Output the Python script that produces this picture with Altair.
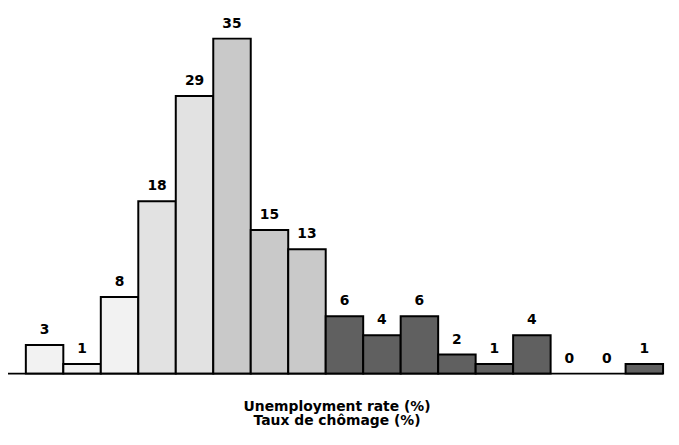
import altair as alt
import pandas as pd

bin_start = list(range(17))
counts = [3, 1, 8, 18, 29, 35, 15, 13, 6, 4, 6, 2, 1, 4, 0, 0, 1]
group = ["a", "a", "a", "b", "b", "c", "c", "c", "d", "d", "d", "d", "d", "d", "d", "d", "d"]
group_colors = ["#f2f2f2", "#e2e2e2", "#c9c9c9", "#606060"]
tick_values = list(range(18))
title_lines = ["Unemployment rate (%)", "Taux de chômage (%)"]

df = pd.DataFrame({
    "start": bin_start,
    "end": [s + 1 for s in bin_start],
    "mid": [s + 0.5 for s in bin_start],
    "count": counts,
    "zero": [0] * 17,
    "group": group,
})
bar_df = df[df["count"] > 0].reset_index(drop=True)

XD = [0, 17]
YD = [0, 38]

bars = alt.Chart(bar_df).mark_rect(stroke="black", strokeWidth=2).encode(
    x=alt.X("start:Q", scale=alt.Scale(domain=XD, nice=False),
            axis=alt.Axis(values=tick_values, title=None, grid=False, domain=False,
                          tickColor="black", tickSize=6, tickWidth=2,
                          labelFont="DejaVu Sans", labelFontSize=13, labelFontWeight="bold",
                          labelColor="black", labelPadding=3, labelOverlap=False)),
    x2="end:Q",
    y=alt.Y("count:Q", scale=alt.Scale(domain=YD, nice=False), axis=None),
    y2="zero:Q",
    fill=alt.Fill("group:N", scale=alt.Scale(domain=["a", "b", "c", "d"], range=group_colors), legend=None),
)

labels = alt.Chart(df).mark_text(baseline="bottom", dy=-8, font="DejaVu Sans",
                                 fontSize=14, fontWeight="bold", color="black").encode(
    x=alt.X("mid:Q", axis=None),
    y=alt.Y("count:Q", axis=None),
    text="count:Q",
)

axis_df = pd.DataFrame({"x1": [-0.5], "x2": [17.0], "y": [0]})
axis_line = alt.Chart(axis_df).mark_rule(color="black", strokeWidth=2).encode(
    x=alt.X("x1:Q", axis=None), x2="x2:Q", y=alt.Y("y:Q", axis=None)
)

t1 = alt.Chart(pd.DataFrame({"t": [title_lines[0]]})).mark_text(
    font="DejaVu Sans", fontSize=14, fontWeight="bold", color="black", baseline="middle"
).encode(x=alt.value(314), y=alt.value(401), text="t:N")
t2 = alt.Chart(pd.DataFrame({"t": [title_lines[1]]})).mark_text(
    font="DejaVu Sans", fontSize=14, fontWeight="bold", color="black", baseline="middle"
).encode(x=alt.value(314), y=alt.value(415), text="t:N")

chart = alt.layer(bars, axis_line, labels, t1, t2).properties(
    width=643, height=367,
    autosize=alt.AutoSizeParams(type="none"),
    padding={"left": 18, "top": 0, "right": 8, "bottom": 60},
).configure_view(strokeWidth=0).configure_axisX(labelOverlap=False, labelBound=False)

chart.save("out.html", embed_options={"renderer": "svg", "actions": False})
